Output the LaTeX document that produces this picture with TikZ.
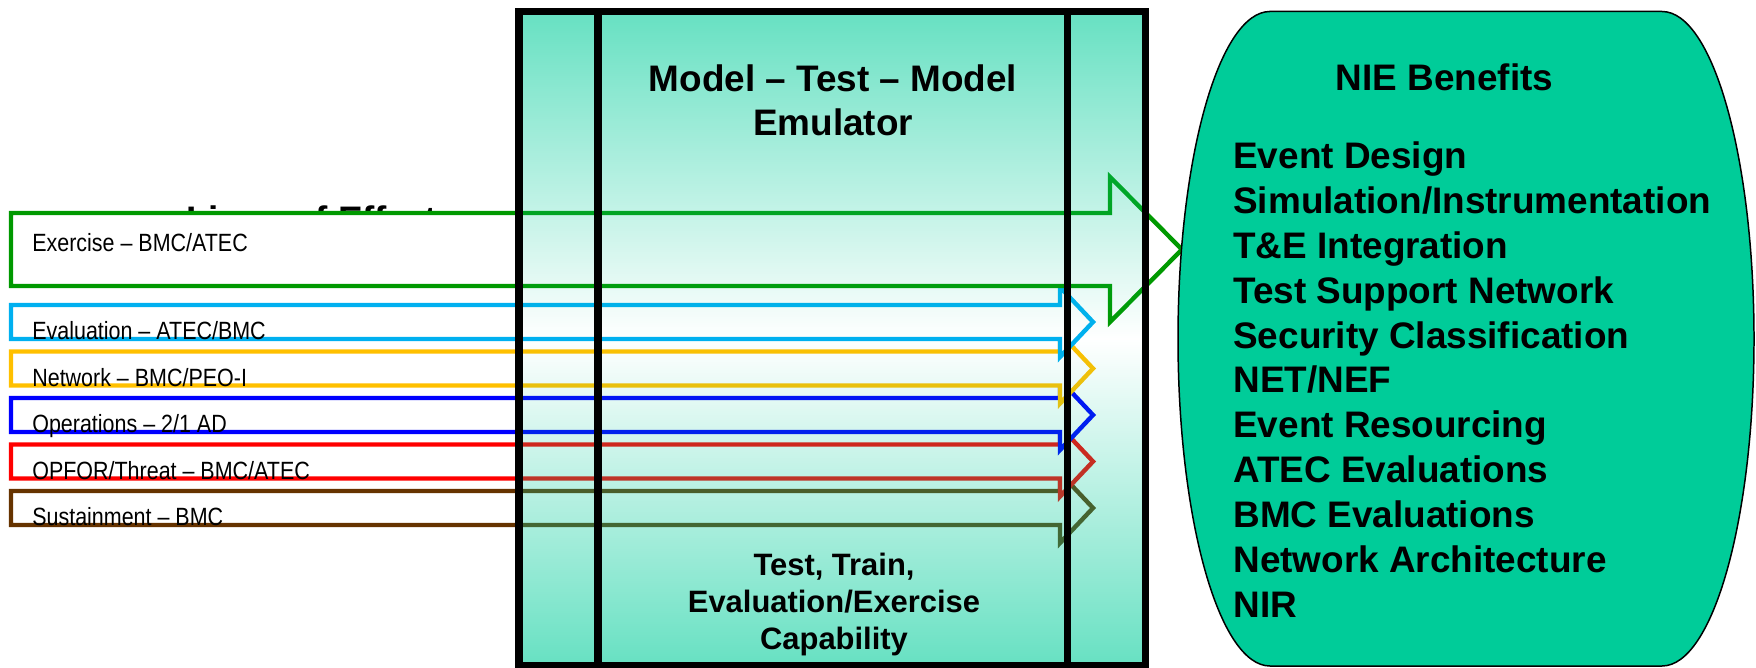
\documentclass[tikz,border=0pt]{standalone}
\usepackage{fontspec}
\setmainfont{Liberation Sans}
\newfontfamily\narrowfont[FakeStretch=0.86]{Liberation Sans}
\usetikzlibrary{fadings}
\definecolor{loegreen}{RGB}{0,153,0}
\definecolor{loecyan}{RGB}{0,176,240}
\definecolor{loeyellow}{RGB}{255,192,0}
\definecolor{loeblue}{RGB}{0,0,255}
\definecolor{loered}{RGB}{255,0,0}
\definecolor{loebrown}{RGB}{102,51,0}
\definecolor{nieteal}{RGB}{0,204,153}
\tikzstyle{loearrow}=[line width=2.5pt,fill=white]
\tikzstyle{loelabel}=[anchor=base west,inner sep=0pt,font=\narrowfont\fontsize{14.2}{17}\selectfont]
\tikzstyle{boxline}=[line width=4pt]
\tikzstyle{boxtext}=[align=center,inner sep=0pt,anchor=north]
\tikzstyle{benefit}=[anchor=base west,inner sep=0pt,font=\bfseries\fontsize{21}{25}\selectfont]
\tikzfading[name=boxfade,top color=transparent!40,bottom color=transparent!40,middle color=transparent!100]

\begin{document}
\begin{tikzpicture}[x=0.2mm,y=-0.2mm]
  \useasboundingbox (0,0) rectangle (1756,668);

  % title, mostly hidden by the arrows
  \node[anchor=base west,inner sep=0pt,font=\bfseries\fontsize{21}{25}\selectfont] (loetitle) at (186,232.5) {Lines of Effort};

  % lines of effort
  \foreach \cy/\col/\name/\txt in {508/loebrown/sust/{Sustainment – BMC}, 461.5/loered/opfor/{OPFOR/Threat – BMC/ATEC}, 415/loeblue/ops/{Operations – 2/1 AD}, 368.5/loeyellow/net/{Network – BMC/PEO-I}, 322/loecyan/eval/{Evaluation – ATEC/BMC}}
  {
    \draw[loearrow,draw=\col] (11,{\cy-17}) -- (1060,{\cy-17}) -- (1060,{\cy-35}) -- (1093,\cy) -- (1060,{\cy+35}) -- (1060,{\cy+17}) -- (11,{\cy+17}) -- cycle;
    \node[loelabel] (\name) at (32,{\cy+17.5}) {\txt};
  }
  \draw[loearrow,draw=loegreen] (11,213) -- (1110,213) -- (1110,177) -- (1182,249.5) -- (1110,322) -- (1110,286) -- (11,286) -- cycle;
  \node[loelabel] (exer) at (32,251.5) {Exercise – BMC/ATEC};

  % emulator
  \fill[nieteal,path fading=boxfade] (519,11.5) rectangle (1145,666);
  \draw[boxline] (519,11.5) rectangle (1145,666);
  \draw[boxline] (598,11.5) -- (598,666);
  \draw[boxline] (1067,11.5) -- (1067,666);
  \node[boxtext,font=\bfseries\fontsize{21}{25}\selectfont] (mtm) at (833,64) {Model – Test – Model\\Emulator};
  \node[boxtext,font=\bfseries\fontsize{17.6}{21}\selectfont] (ttec) at (834,552.5) {Test, Train,\\Evaluation/Exercise\\Capability};

  % benefits
  \draw[fill=nieteal,line width=0.85pt] (1270,11.5) -- (1662,11.5) arc[start angle=-90,end angle=90,x radius=92,y radius=327.25] -- (1270,666) arc[start angle=90,end angle=270,x radius=92,y radius=327.25] -- cycle;
  \node[anchor=base,inner sep=0pt,font=\bfseries\fontsize{21}{25}\selectfont] (nie) at (1444.5,90.5) {NIE Benefits};
  \foreach \txt [count=\i] in {Event Design, Simulation/Instrumentation, T\&E Integration, Test Support Network, Security Classification, NET/NEF, Event Resourcing, ATEC Evaluations, BMC Evaluations, Network Architecture, NIR}
    \node[benefit] (ben\i) at (1233,{169+44.8*(\i-1)}) {\txt};

\end{tikzpicture}
\end{document}
